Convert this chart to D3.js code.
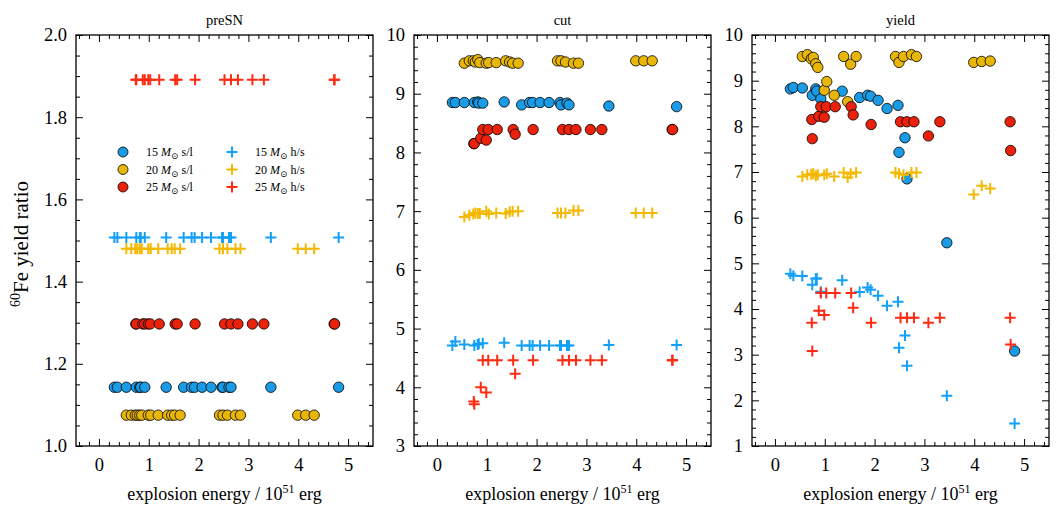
<!DOCTYPE html>
<html>
<head>
<meta charset="utf-8">
<script src="https://cdn.jsdelivr.net/npm/d3@7"></script>
<style>
  body { margin: 0; background: #fff; }
  svg { font-family: "Liberation Serif", "DejaVu Serif", serif; }
</style>
</head>
<body>
<svg id="chart" width="1062" height="514"></svg>
<script>
// explosion energies (10^51 erg) of the models, per progenitor mass
var energy15 = [0.31, 0.37, 0.55, 0.75, 0.82, 0.84, 0.92, 1.35, 1.70, 1.86, 1.92, 2.07, 2.25, 2.47, 2.49, 2.61, 2.65, 3.45, 4.81];
var energy20 = [0.55, 0.65, 0.73, 0.77, 0.82, 0.86, 0.99, 1.04, 1.19, 1.38, 1.46, 1.52, 1.63, 2.42, 2.49, 2.58, 2.74, 2.84, 3.99, 4.15, 4.32];
var energy25 = [0.74, 0.75, 0.88, 0.92, 0.99, 1.03, 1.21, 1.53, 1.57, 1.93, 2.52, 2.65, 2.79, 3.08, 3.31, 4.72, 4.73];

// preSN panel
var presn15sl = [1.143, 1.143, 1.143, 1.143, 1.143, 1.143, 1.143, 1.143, 1.143, 1.143, 1.143, 1.143, 1.143, 1.143, 1.143, 1.143, 1.143, 1.143, 1.143];
var presn20sl = [1.075, 1.075, 1.075, 1.075, 1.075, 1.075, 1.075, 1.075, 1.075, 1.075, 1.075, 1.075, 1.075, 1.075, 1.075, 1.075, 1.075, 1.075, 1.075, 1.075, 1.075];
var presn25sl = [1.297, 1.297, 1.297, 1.297, 1.297, 1.297, 1.297, 1.297, 1.297, 1.297, 1.297, 1.297, 1.297, 1.297, 1.297, 1.297, 1.297];
var presn15hs = [1.507, 1.507, 1.507, 1.507, 1.507, 1.507, 1.507, 1.507, 1.507, 1.507, 1.507, 1.507, 1.507, 1.507, 1.507, 1.507, 1.507, 1.507, 1.507];
var presn20hs = [1.480, 1.480, 1.480, 1.480, 1.480, 1.480, 1.480, 1.480, 1.480, 1.480, 1.480, 1.480, 1.480, 1.480, 1.480, 1.480, 1.480, 1.480, 1.480, 1.480, 1.480];
var presn25hs = [1.891, 1.891, 1.891, 1.891, 1.891, 1.891, 1.891, 1.891, 1.891, 1.891, 1.891, 1.891, 1.891, 1.891, 1.891, 1.891, 1.891];

// cut panel
var cut15sl = [8.85, 8.85, 8.85, 8.85, 8.86, 8.84, 8.84, 8.86, 8.81, 8.85, 8.85, 8.85, 8.85, 8.85, 8.81, 8.84, 8.81, 8.79, 8.78];
var cut20sl = [9.52, 9.56, 9.56, 9.54, 9.58, 9.53, 9.52, 9.53, 9.53, 9.56, 9.54, 9.52, 9.52, 9.56, 9.56, 9.54, 9.52, 9.52, 9.56, 9.56, 9.56];
var cut25sl = [8.15, 8.15, 8.24, 8.39, 8.21, 8.39, 8.39, 8.39, 8.31, 8.39, 8.39, 8.39, 8.39, 8.39, 8.39, 8.39, 8.39];
var cut15hs = [4.71, 4.78, 4.73, 4.71, 4.73, 4.74, 4.75, 4.76, 4.71, 4.71, 4.71, 4.71, 4.71, 4.71, 4.71, 4.71, 4.71, 4.72, 4.72];
var cut20hs = [6.90, 6.93, 6.95, 6.97, 6.96, 6.96, 7.00, 6.95, 6.97, 6.96, 6.99, 7.00, 7.00, 6.97, 6.97, 6.97, 7.01, 7.01, 6.97, 6.97, 6.97];
var cut25hs = [3.76, 3.71, 4.00, 4.46, 3.91, 4.46, 4.46, 4.46, 4.23, 4.46, 4.46, 4.46, 4.46, 4.46, 4.46, 4.46, 4.46];

// yield panel
var yield15sl = [8.82, 8.85, 8.84, 8.68, 8.82, 8.77, 8.60, 8.77, 8.63, 8.68, 8.66, 8.57, 8.39, 8.46, 7.43, 7.75, 6.85, 5.45, 3.08];
var yield20sl = [9.53, 9.57, 9.48, 9.51, 9.37, 9.29, 8.79, 8.98, 8.68, 9.53, 8.54, 9.36, 9.53, 9.53, 9.40, 9.53, 9.57, 9.53, 9.40, 9.42, 9.43];
var yield25sl = [8.15, 7.73, 8.22, 8.43, 8.20, 8.43, 8.43, 8.43, 8.25, 8.04, 8.10, 8.10, 8.10, 7.79, 8.10, 8.10, 7.47];
var yield15hs = [4.77, 4.73, 4.72, 4.53, 4.67, 4.67, 4.38, 4.63, 4.37, 4.47, 4.42, 4.29, 4.07, 4.16, 3.15, 3.42, 2.76, 2.10, 1.49];
var yield20hs = [6.90, 6.94, 6.95, 6.96, 6.92, 6.94, 6.94, 6.96, 6.90, 6.99, 6.88, 6.96, 6.99, 6.99, 6.96, 6.94, 6.99, 6.99, 6.51, 6.70, 6.64];
var yield25hs = [3.70, 3.08, 3.96, 4.35, 3.87, 4.35, 4.35, 4.35, 4.03, 3.70, 3.81, 3.81, 3.81, 3.70, 3.81, 3.81, 3.22];

var masses = ["15", "20", "25"];
var circleColors = ["#1a9be6", "#e8b606", "#ea220c"];
var plusColors = ["#12a0f8", "#f4b800", "#ff2a10"];

var panels = [
	{ title: "preSN", yDomain: [1, 2], yStep: 0.2, yMinor: 0.05, fmt: ".1f",
	  sl: [presn15sl, presn20sl, presn25sl], hs: [presn15hs, presn20hs, presn25hs] },
	{ title: "cut", yDomain: [3, 10], yStep: 1, yMinor: 0.2, fmt: "d",
	  sl: [cut15sl, cut20sl, cut25sl], hs: [cut15hs, cut20hs, cut25hs] },
	{ title: "yield", yDomain: [1, 10], yStep: 1, yMinor: 0.2, fmt: "d",
	  sl: [yield15sl, yield20sl, yield25sl], hs: [yield15hs, yield20hs, yield25hs] }
];
var energies = [energy15, energy20, energy25];

// layout
var panelLeft = [76, 414, 752],
	panelWidth = 297,
	plotTop = 35,
	plotBottom = 446;

var svg = d3.select("#chart");

function ticksFrom(lo, hi, step) {
	var out = [];
	var n = Math.round((hi - lo) / step);
	for (var i = 0; i <= n; i++) out.push(+(lo + i * step).toFixed(4));
	return out;
}

panels.forEach(function(p, k) {
	var left = panelLeft[k], right = left + panelWidth;
	var x = d3.scaleLinear().domain([-0.46, 5.5]).range([left, right]);
	var y = d3.scaleLinear().domain(p.yDomain).range([plotBottom, plotTop]);

	var xMajor = [0, 1, 2, 3, 4, 5];
	var xMinor = ticksFrom(-0.4, 5.4, 0.2).filter(function(v) { return Math.abs(v - Math.round(v)) > 1e-6; });
	var yMajor = ticksFrom(p.yDomain[0], p.yDomain[1], p.yStep);
	var yMinor = ticksFrom(p.yDomain[0], p.yDomain[1], p.yMinor).filter(function(v) {
		return yMajor.every(function(m) { return Math.abs(m - v) > 1e-6; });
	});

	var g = svg.append("g");

	function addAxis(axis, tr, labels) {
		var a = g.append("g").attr("transform", tr).call(axis);
		a.select(".domain").remove();
		a.selectAll("line").attr("stroke", "#000").attr("stroke-width", 1);
		a.selectAll("text").attr("font-size", 18.5).attr("fill", "#000")
			.attr("font-family", "Liberation Serif, serif");
		if (!labels) a.selectAll("text").remove();
		return a;
	}

	// bottom / top
	addAxis(d3.axisBottom(x).tickValues(xMajor).tickSize(-7).tickPadding(12).tickFormat(d3.format("d")), "translate(0," + plotBottom + ")", true);
	addAxis(d3.axisBottom(x).tickValues(xMinor).tickSize(-4).tickFormat(""), "translate(0," + plotBottom + ")", false);
	addAxis(d3.axisTop(x).tickValues(xMajor).tickSize(-7), "translate(0," + plotTop + ")", false);
	addAxis(d3.axisTop(x).tickValues(xMinor).tickSize(-4), "translate(0," + plotTop + ")", false);
	// left / right
	addAxis(d3.axisLeft(y).tickValues(yMajor).tickSize(-7).tickPadding(9).tickFormat(d3.format(p.fmt)), "translate(" + left + ",0)", true);
	addAxis(d3.axisLeft(y).tickValues(yMinor).tickSize(-4).tickFormat(""), "translate(" + left + ",0)", false);
	addAxis(d3.axisRight(y).tickValues(yMajor).tickSize(-7), "translate(" + right + ",0)", false);
	addAxis(d3.axisRight(y).tickValues(yMinor).tickSize(-4), "translate(" + right + ",0)", false);

	// frame
	g.append("rect")
		.attr("x", left).attr("y", plotTop)
		.attr("width", panelWidth).attr("height", plotBottom - plotTop)
		.attr("fill", "none").attr("stroke", "#000").attr("stroke-width", 1.3);

	// circles: s/l
	for (var m = 0; m < 3; m++) {
		var pts = energies[m].map(function(e, i) { return [e, p.sl[m][i]]; });
		g.append("g").selectAll("circle").data(pts).enter().append("circle")
			.attr("cx", function(d) { return x(d[0]); })
			.attr("cy", function(d) { return y(d[1]); })
			.attr("r", 5.2)
			.attr("fill", circleColors[m])
			.attr("stroke", "#000").attr("stroke-width", 0.8);
	}
	// plus: h/s
	for (var m = 0; m < 3; m++) {
		var pts = energies[m].map(function(e, i) { return [e, p.hs[m][i]]; });
		g.append("g").selectAll("path").data(pts).enter().append("path")
			.attr("d", function(d) {
				var cx = x(d[0]), cy = y(d[1]), s = 5.5;
				return "M" + (cx - s) + "," + cy + "H" + (cx + s) + "M" + cx + "," + (cy - s) + "V" + (cy + s);
			})
			.attr("stroke", plusColors[m]).attr("stroke-width", 2).attr("fill", "none");
	}

	// title
	g.append("text")
		.attr("x", (left + right) / 2).attr("y", 25)
		.attr("text-anchor", "middle").attr("font-size", 14.5)
		.text(p.title);

	// x label
	var xl = g.append("text")
		.attr("x", (left + right) / 2).attr("y", 500)
		.attr("text-anchor", "middle").attr("font-size", 18);
	xl.append("tspan").text("explosion energy / 10");
	xl.append("tspan").attr("font-size", 12).attr("dy", -7).text("51");
	xl.append("tspan").attr("dy", 7).text(" erg");
});

// y label
var yl = svg.append("text")
	.attr("transform", "translate(28,244) rotate(-90)")
	.attr("text-anchor", "middle").attr("font-size", 21);
yl.append("tspan").attr("font-size", 14).attr("dy", -8).text("60");
yl.append("tspan").attr("dy", 8).text("Fe yield ratio");

// legend in the first panel
var legend = svg.append("g").attr("font-size", 12);
var rowY = [152, 169.5, 187];
masses.forEach(function(mass, m) {
	legend.append("circle")
		.attr("cx", 123).attr("cy", rowY[m]).attr("r", 5)
		.attr("fill", circleColors[m]).attr("stroke", "#000").attr("stroke-width", 0.8);
	var t1 = legend.append("text").attr("x", 146).attr("y", rowY[m] + 4);
	t1.append("tspan").text(mass + " ");
	t1.append("tspan").attr("font-style", "italic").text("M");
	t1.append("tspan").attr("font-size", 9).attr("dy", 3).text("\u2299");
	t1.append("tspan").attr("dy", -3).text(" s/l");

	legend.append("path")
		.attr("d", "M" + (232 - 5.5) + "," + rowY[m] + "H" + (232 + 5.5) + "M232," + (rowY[m] - 5.5) + "V" + (rowY[m] + 5.5))
		.attr("stroke", plusColors[m]).attr("stroke-width", 2);
	var t2 = legend.append("text").attr("x", 255).attr("y", rowY[m] + 4);
	t2.append("tspan").text(mass + " ");
	t2.append("tspan").attr("font-style", "italic").text("M");
	t2.append("tspan").attr("font-size", 9).attr("dy", 3).text("\u2299");
	t2.append("tspan").attr("dy", -3).text(" h/s");
});
</script>
</body>
</html>
